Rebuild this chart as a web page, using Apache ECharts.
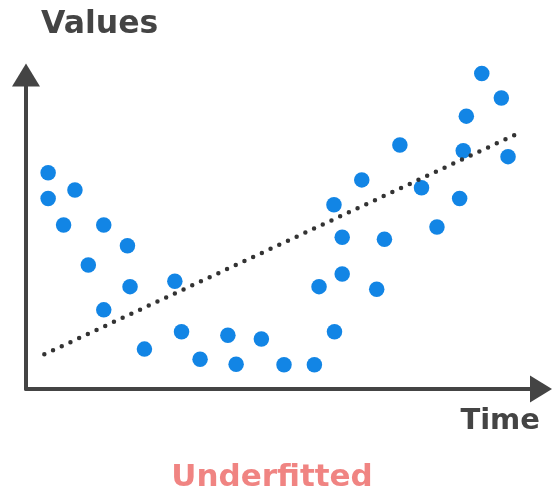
<!DOCTYPE html>
<html>
<head>
<meta charset="utf-8">
<script src="https://cdn.jsdelivr.net/npm/echarts@6/dist/echarts.min.js"></script>
<style>
html,body{margin:0;padding:0;background:#fff;}
#chart{width:552px;height:493px;}
</style>
</head>
<body>
<div id="chart"></div>
<script>
// Data (time on x, values on y; arbitrary 0-100 scales)
var timeValues = [4.3, 4.3, 9.5, 7.3, 15.1, 19.7, 12.1, 20.2, 15.1, 28.9, 23.0, 30.2, 33.8, 39.2, 40.8, 45.7, 50.1, 56.0, 56.9, 59.9, 61.4, 61.4, 59.8, 65.2, 69.6, 68.1, 72.6, 76.8, 79.8, 84.2, 84.9, 85.5, 88.5, 92.3, 93.6];
var measuredValues = [68.9, 60.7, 63.4, 52.2, 52.2, 45.6, 39.5, 32.6, 25.2, 34.3, 12.7, 18.2, 9.5, 17.1, 7.9, 15.9, 7.7, 7.7, 32.6, 18.2, 36.6, 48.3, 58.7, 66.6, 47.7, 31.8, 77.7, 64.1, 51.6, 60.7, 75.9, 86.9, 100.5, 92.7, 74.0];
var fitTime = [3.56, 96.2];
var fitValues = [11.05, 81.9];
var yAxisTitle = 'Values';
var xAxisTitle = 'Time';
var caption = 'Underfitted';

var points = timeValues.map(function (t, i) { return [t, measuredValues[i]]; });
var fitLine = fitTime.map(function (t, i) { return [t, fitValues[i]]; });

var chart = echarts.init(document.getElementById('chart'));
var axisColor = '#444444';
var font = '"DejaVu Sans", sans-serif';
chart.setOption({
  animation: false,
  backgroundColor: '#ffffff',
  grid: { left: 26, right: 11, top: 75, bottom: 104, containLabel: false },
  xAxis: {
    type: 'value', min: 0, max: 100,
    axisLine: { show: true, onZero: false, symbol: ['none', 'triangle'], symbolSize: [27, 22],
      lineStyle: { color: axisColor, width: 4 } },
    axisTick: { show: false }, axisLabel: { show: false }, splitLine: { show: false }
  },
  yAxis: {
    type: 'value', min: 0, max: 100,
    axisLine: { show: true, symbol: ['none', 'triangle'], symbolSize: [28, 23],
      lineStyle: { color: axisColor, width: 4 } },
    axisTick: { show: false }, axisLabel: { show: false }, splitLine: { show: false }
  },
  graphic: [
    { type: 'text', left: 41, top: 9, style: { text: yAxisTitle, font: 'bold 31.5px ' + font, fill: '#444444' } },
    { type: 'text', right: 12, top: 407, style: { text: xAxisTitle, font: 'bold 29px ' + font, fill: '#444444' } },
    { type: 'text', x: 272, y: 462, style: { text: caption, font: 'bold 31px ' + font, fill: '#f08482', align: 'center' } }
  ],
  series: [
    {
      type: 'line', data: fitLine, symbol: 'none', silent: true,
      lineStyle: { color: '#333333', width: 4.5, type: [0, 9.6], cap: 'round' }
    },
    {
      type: 'scatter', data: points, symbolSize: 15.5, clip: false,
      itemStyle: { color: '#1285e5', opacity: 1 }
    }
  ]
});
</script>
</body>
</html>
